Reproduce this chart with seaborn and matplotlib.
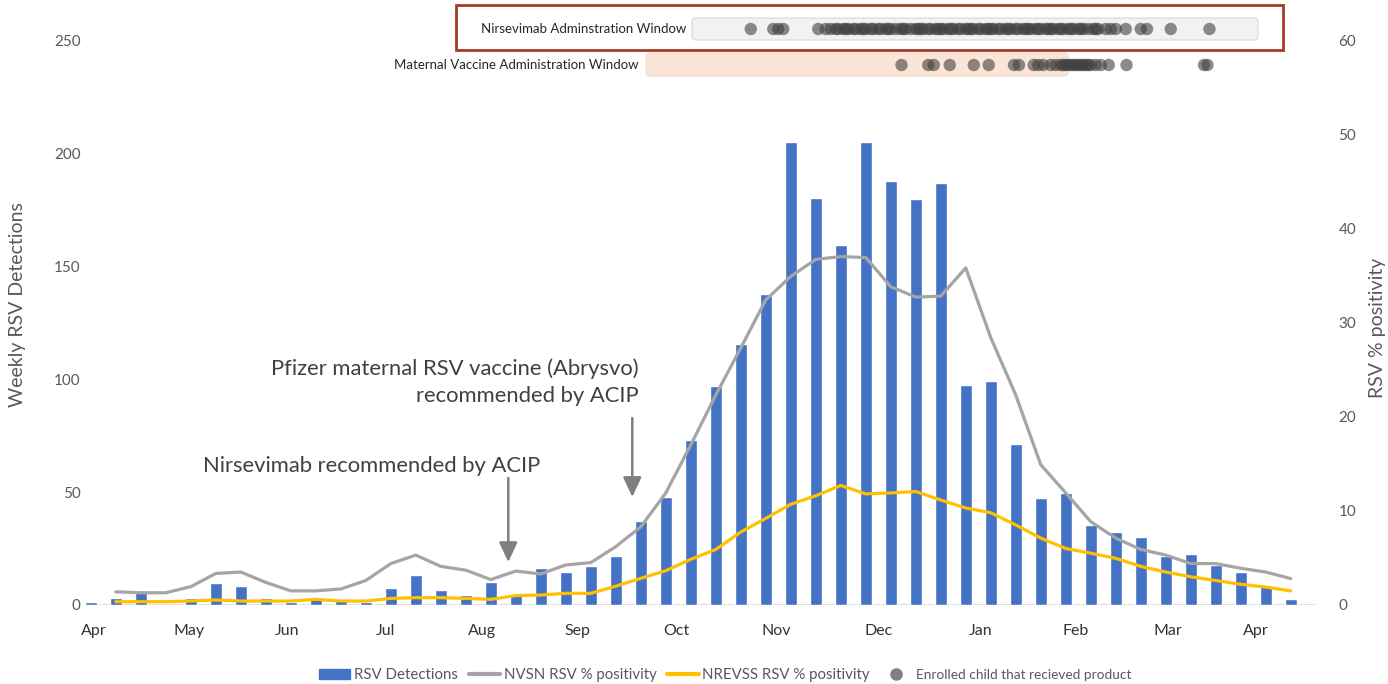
import numpy as np
import pandas as pd
import matplotlib
matplotlib.use("Agg")
import matplotlib.pyplot as plt
from matplotlib.patches import FancyBboxPatch, Rectangle, Patch
from matplotlib.lines import Line2D
import seaborn as sns

# weekly data, week 0 = first week of April
weeks = list(range(49))
rsv_detections = [1.5, 3.2, 6.3, 0, 3.2, 9.6, 8.6, 3.2, 1.5, 3.2, 2.6, 1.5, 7.4, 13.4, 6.5, 4.4,
                  10.3, 4.4, 16.2, 14.6, 17.3, 21.7, 37.3, 47.6, 73, 97, 115.6, 137.8, 205, 180.3,
                  159.5, 205, 187.5, 179.6, 186.6, 97.3, 99.3, 71.3, 47.5, 49.7, 35.4, 32.4, 30.2,
                  21.7, 22.6, 17.7, 14.5, 8.6, 2.5]
nvsn_pos = [np.nan, 1.4, 1.3, 1.3, 1.95, 3.35, 3.5, 2.4, 1.5, 1.5, 1.7, 2.6, 4.4, 5.3, 4.1, 3.7,
            2.7, 3.6, 3.3, 4.25, 4.5, 6.2, 8.3, 11.9, 17.0, 22.3, 27.3, 32.4, 34.9, 36.7,
            37.0, 36.9, 33.8, 32.7, 32.8, 35.8, 28.4, 22.3, 14.9, 11.9, 8.85, 7.1, 5.9,
            5.3, 4.4, 4.4, 3.9, 3.5, 2.8]
nrevss_pos = [np.nan, 0.35, 0.35, 0.35, 0.42, 0.53, 0.42, 0.42, 0.42, 0.6, 0.42, 0.42, 0.7, 0.78,
              0.78, 0.7, 0.6, 1.0, 1.06, 1.24, 1.24, 2.0, 2.83, 3.64, 4.85, 5.9, 7.75, 9.2, 10.7,
              11.6, 12.7, 11.8, 11.9, 12.05, 11.15, 10.3, 9.8, 8.5, 7.1, 6.0, 5.5, 4.96, 4.1,
              3.5, 3.0, 2.6, 2.2, 1.9, 1.5]

month_labels = ["Apr", "May", "Jun", "Jul", "Aug", "Sep", "Oct", "Nov", "Dec", "Jan", "Feb", "Mar", "Apr"]
month_pos = [0.13, 3.94, 7.84, 11.77, 15.66, 19.48, 23.44, 27.4, 31.5, 35.6, 39.4, 43.1, 46.6]

# enrolled children, week the product was received
nirsevimab_dots = [26.4, 27.3, 27.5, 27.7, 29.1, 29.4, 29.6, 29.8, 29.9, 30.1, 30.2, 30.3, 30.5,
                   30.6, 30.8, 30.9, 31.0, 31.2, 31.3, 31.5, 31.6, 31.8, 31.9, 32.0, 32.2, 32.4,
                   32.5, 32.6, 32.8, 33.0, 33.1, 33.2, 33.3, 33.5, 33.6, 33.8, 33.9, 34.0, 34.1,
                   34.3, 34.4, 34.5, 34.7, 34.8, 35.0, 35.1, 35.2, 35.3, 35.5, 35.6, 35.8, 35.9,
                   36.0, 36.1, 36.3, 36.4, 36.6, 36.7, 36.8, 37.0, 37.1, 37.3, 37.4, 37.5, 37.6,
                   37.8, 37.9, 38.0, 38.2, 38.3, 38.4, 38.5, 38.7, 38.8, 38.9, 39.1, 39.2, 39.3,
                   39.5, 39.6, 39.7, 39.9, 40.1, 40.2, 40.3, 40.6, 40.8, 41.0, 41.4, 42.0, 42.25,
                   43.2, 44.75]
maternal_dots = [32.43, 33.5, 33.72, 34.36, 35.32, 35.92, 36.93, 37.13, 37.72, 37.9, 38.1, 38.4,
                 38.6, 38.8, 38.9, 39.0, 39.1, 39.2, 39.3, 39.4, 39.5, 39.6, 39.7, 39.8, 39.9,
                 40.0, 40.2, 40.4, 40.72, 41.43, 44.53, 44.67]
nirsevimab_window = (24.05, 46.69)
maternal_window = (22.21, 39.09)

sns.set_style("white")
plt.rcParams["font.family"] = ["Lato", "DejaVu Sans"]

BLUE = "#4472C4"
GRAY = "#A5A5A5"
GOLD = "#FFC000"
TXT = "#595959"

fig = plt.figure(figsize=(13.88, 6.84), dpi=100)
ax = fig.add_axes([0.062, 0.1155, 0.8854, 0.826])

df = pd.DataFrame({"week": weeks, "det": rsv_detections, "nvsn": nvsn_pos, "nrevss": nrevss_pos})
sns.barplot(data=df, x="week", y="det", native_scale=True, width=0.48, color=BLUE,
            saturation=1, ax=ax, zorder=2)
ax.axhline(0, color="#D9D9D9", lw=1.2, zorder=1)
ax.set_xlim(-0.19, 48.97)
ax.set_ylim(0, 250)
ax.set_yticks(range(0, 251, 50))
ax.set_xticks(month_pos)
ax.set_xticklabels(month_labels)
ax.tick_params(axis="x", length=0, pad=14, labelsize=11.5, labelcolor="#333333")
ax.tick_params(axis="y", length=0, pad=4, labelsize=11, labelcolor=TXT)
ax.set_xlabel("")
ax.set_ylabel("")
for s in ax.spines.values():
    s.set_visible(False)

ax2 = ax.twinx()
sns.lineplot(data=df, x="week", y="nvsn", color=GRAY, lw=2.3, ax=ax2, legend=False)
sns.lineplot(data=df, x="week", y="nrevss", color=GOLD, lw=2.3, ax=ax2, legend=False)
ax2.set_ylim(0, 60)
ax2.set_yticks(range(0, 61, 10))
ax2.tick_params(axis="y", length=0, pad=17, labelsize=11, labelcolor=TXT)
ax2.set_ylabel("")
ax2.set_xlabel("")
for s in ax2.spines.values():
    s.set_visible(False)

fig.text(18 / 1388, 1 - 305 / 684, "Weekly RSV Detections", rotation=90, ha="center", va="center",
         fontsize=14, color=TXT)
fig.text(1377 / 1388, 1 - 328 / 684, "RSV % positivity", rotation=90, ha="center", va="center",
         fontsize=14, color=TXT)

# annotations
ax.text(21.9, 98.5, "Pfizer maternal RSV vaccine (Abrysvo)\nrecommended by ACIP", ha="right",
        va="center", multialignment="right", linespacing=1.4, fontsize=15.8, color="#404040")
ax.text(17.97, 61.5, "Nirsevimab recommended by ACIP", ha="right", va="center",
        fontsize=15.8, color="#404040")
arrow = dict(arrowstyle="-|>,head_width=0.28,head_length=0.6", color="#7F7F7F", lw=1.8,
             mutation_scale=20, shrinkA=0, shrinkB=0)
ax.annotate("", xy=(21.66, 47.8), xytext=(21.66, 82.7), arrowprops=arrow)
ax.annotate("", xy=(16.7, 19.0), xytext=(16.7, 56.2), arrowprops=arrow)

# top strip with administration windows
axt = fig.add_axes([0.062, 1 - 90 / 684, 0.8854, 90 / 684])
axt.set_xlim(-0.19, 48.97)
axt.set_ylim(90, 0)
axt.axis("off")
axt.patch.set_alpha(0)
axt.add_patch(FancyBboxPatch((nirsevimab_window[0], 18), nirsevimab_window[1] - nirsevimab_window[0], 22,
                             boxstyle="round,pad=0,rounding_size=0.16", mutation_aspect=25,
                             fc="#F2F2F2", ec="#D9D9D9", lw=0.8))
axt.add_patch(FancyBboxPatch((maternal_window[0], 53), maternal_window[1] - maternal_window[0], 23,
                             boxstyle="round,pad=0,rounding_size=0.16", mutation_aspect=25,
                             fc="#FBE5D6", ec="#F8D8C4", lw=0.8))
axt.add_patch(Rectangle((14.62, 5), 33.07, 45, fill=False, ec="#A33B2B", lw=2))
axt.text(nirsevimab_window[0] - 0.25, 29, "Nirsevimab Adminstration Window", ha="right", va="center",
         fontsize=9.5, color="#262626")
axt.text(maternal_window[0] - 0.3, 65, "Maternal Vaccine Administration Window", ha="right",
         va="center", fontsize=9.5, color="#262626")
sns.scatterplot(x=nirsevimab_dots, y=[29] * len(nirsevimab_dots), ax=axt, s=80, color="#404040",
                alpha=0.6, edgecolor="none", legend=False)
sns.scatterplot(x=maternal_dots, y=[65] * len(maternal_dots), ax=axt, s=80, color="#404040",
                alpha=0.6, edgecolor="none", legend=False)
axt.set_xlim(-0.19, 48.97)
axt.set_ylim(90, 0)

handles = [Patch(color=BLUE),
           Line2D([], [], color=GRAY, lw=3),
           Line2D([], [], color=GOLD, lw=3),
           Line2D([], [], ls="none", marker="o", color="#808080", markersize=8)]
labels = ["RSV Detections", "NVSN RSV % positivity", "NREVSS RSV % positivity",
          "Enrolled child that recieved product"]
leg = fig.legend(handles, labels, loc="center", bbox_to_anchor=(725 / 1388, 1 - 675 / 684), ncol=4,
                 frameon=False, fontsize=10.8, handlelength=2.1, handleheight=0.7,
                 handletextpad=0.25, columnspacing=0.7, labelcolor=TXT)
leg.get_texts()[3].set_fontsize(9.8)

fig.savefig("out.png", dpi=100)
